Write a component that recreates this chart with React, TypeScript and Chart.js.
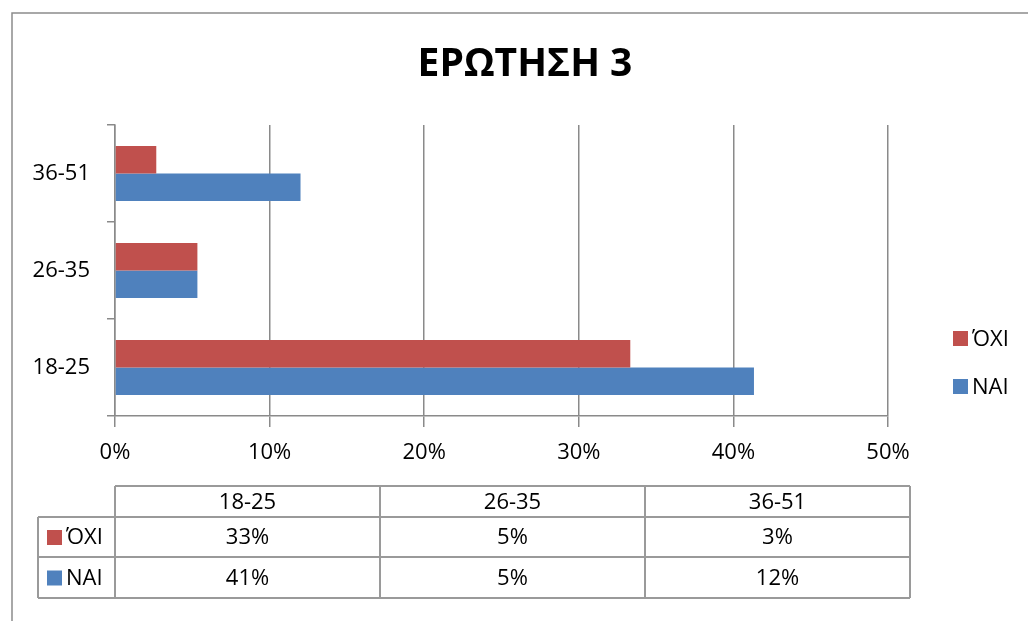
import React, { useEffect, useRef } from "react";
import { Chart, registerables } from "chart.js";

Chart.register(...registerables);

const title = "ΕΡΩΤΗΣΗ 3";
const categories = ["18-25", "26-35", "36-51"];
const seriesNames = ["ΌΧΙ", "ΝΑΙ"];
const oxiValues = [33.33, 5.33, 2.67];
const naiValues = [41.33, 5.33, 12.0];
const seriesColors = ["#C0504D", "#4F81BD"];
const xTicks = [0, 10, 20, 30, 40, 50];

const FONT = "'Open Sans', 'DejaVu Sans', sans-serif";
const GRAY = "#8a8a8a";

const decorPlugin = {
  id: "decor",
  beforeDraw(chart: any) {
    const ctx = chart.ctx;
    ctx.save();
    ctx.fillStyle = "#ffffff";
    ctx.fillRect(0, 0, chart.width, chart.height);
    ctx.strokeStyle = "#8c8c8c";
    ctx.lineWidth = 1.5;
    ctx.beginPath();
    ctx.moveTo(12, chart.height);
    ctx.lineTo(12, 13);
    ctx.lineTo(chart.width, 13);
    ctx.stroke();
    ctx.restore();
  },
  afterDraw(chart: any) {
    const ctx = chart.ctx;
    const area = chart.chartArea;
    const ds = chart.data.datasets;
    ctx.save();
    ctx.fillStyle = "#000";
    ctx.font = `bold 39px ${FONT}`;
    ctx.textAlign = "center";
    ctx.textBaseline = "middle";
    ctx.fillText(title, 525, 65);

    ctx.font = `22px ${FONT}`;
    ctx.textAlign = "left";
    const legendY = [338.5, 386.5];
    ds.forEach((d: any, i: number) => {
      ctx.fillStyle = d.backgroundColor;
      ctx.fillRect(953, legendY[i] - 7.5, 15, 15);
      ctx.fillStyle = "#000";
      ctx.fillText(d.label, 972, legendY[i] + 1);
    });

    const tLeft = area.left;
    const tRight = area.right + 22;
    const keyLeft = 38;
    const rows = [486, 517, 557, 598];
    const colW = (tRight - tLeft) / categories.length;
    ctx.strokeStyle = "#9a9a9a";
    ctx.lineWidth = 2;
    ctx.beginPath();
    ctx.moveTo(tLeft, rows[0]);
    ctx.lineTo(tRight, rows[0]);
    for (let r = 1; r < rows.length; r++) {
      ctx.moveTo(keyLeft, rows[r]);
      ctx.lineTo(tRight, rows[r]);
    }
    ctx.moveTo(keyLeft, rows[1]);
    ctx.lineTo(keyLeft, rows[3]);
    for (let c = 0; c <= categories.length; c++) {
      const x = tLeft + c * colW;
      ctx.moveTo(x, rows[0]);
      ctx.lineTo(x, rows[3]);
    }
    ctx.stroke();

    ctx.fillStyle = "#000";
    ctx.textAlign = "center";
    categories.forEach((cat, c) => {
      ctx.fillText(cat, tLeft + c * colW + colW / 2, (rows[0] + rows[1]) / 2 + 1);
    });
    ds.forEach((d: any, i: number) => {
      const yMid = (rows[i + 1] + rows[i + 2]) / 2 + 1;
      ctx.fillStyle = d.backgroundColor;
      ctx.fillRect(47, yMid - 8, 15, 15);
      ctx.fillStyle = "#000";
      ctx.textAlign = "left";
      ctx.fillText(d.label, 66, yMid);
      ctx.textAlign = "center";
      d.data.forEach((v: number, c: number) => {
        ctx.fillText(Math.round(v) + "%", tLeft + c * colW + colW / 2, yMid);
      });
    });
    ctx.restore();
  },
};

export default function App() {
  const ref = useRef<HTMLCanvasElement | null>(null);
  useEffect(() => {
    if (!ref.current) return;
    const chart = new Chart(ref.current, {
      type: "bar",
      data: {
        labels: categories,
        datasets: [
          {
            label: seriesNames[0],
            data: oxiValues,
            backgroundColor: seriesColors[0],
            borderWidth: 0,
            categoryPercentage: 0.567,
            barPercentage: 1,
          },
          {
            label: seriesNames[1],
            data: naiValues,
            backgroundColor: seriesColors[1],
            borderWidth: 0,
            categoryPercentage: 0.567,
            barPercentage: 1,
          },
        ],
      },
      options: {
        indexAxis: "y",
        responsive: false,
        animation: false,
        devicePixelRatio: 1,
        layout: { padding: { left: 0, top: 125, right: 140, bottom: 145 } },
        plugins: {
          legend: { display: false },
          title: { display: false },
          tooltip: { enabled: false },
        },
        scales: {
          x: {
            type: "linear",
            min: xTicks[0],
            max: xTicks[xTicks.length - 1],
            afterBuildTicks: (scale: any) => {
              scale.ticks = xTicks.map((v) => ({ value: v }));
            },
            afterFit: (scale: any) => {
              scale.height = 60;
            },
            ticks: {
              color: "#000",
              font: { family: FONT, size: 22 },
              padding: 13,
              maxRotation: 0,
              callback: (v: any) => v + "%",
            },
            grid: {
              color: GRAY,
              lineWidth: 1.5,
              tickLength: 11,
              drawOnChartArea: true,
            },
            border: { display: true, color: GRAY, width: 1.5 },
          },
          y: {
            type: "category",
            reverse: true,
            afterFit: (scale: any) => {
              scale.width = 115;
            },
            ticks: {
              color: "#000",
              font: { family: FONT, size: 22 },
              padding: 17,
            },
            grid: {
              offset: true,
              color: GRAY,
              lineWidth: 1.5,
              tickLength: 8,
              drawOnChartArea: false,
            },
            border: { display: true, color: GRAY, width: 1.5 },
          },
        },
      },
      plugins: [decorPlugin],
    } as any);
    return () => chart.destroy();
  }, []);
  return (
    <div style={{ position: "fixed", left: 0, top: 0, width: 1028, height: 621, background: "#fff" }}>
      <canvas ref={ref} width={1028} height={621} style={{ width: 1028, height: 621, display: "block" }} />
    </div>
  );
}
